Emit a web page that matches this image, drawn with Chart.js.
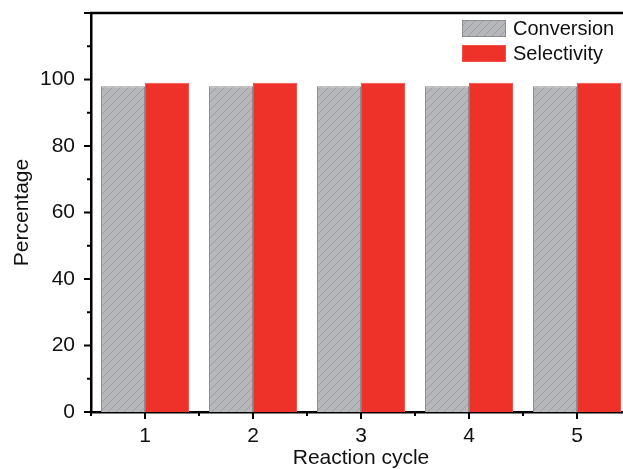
<!DOCTYPE html>
<html>
<head>
<meta charset="utf-8">
<script src="https://cdn.jsdelivr.net/npm/chart.js@4/dist/chart.umd.min.js"></script>
<style>
    html, body { margin: 0; padding: 0; background: #fff; }
    #wrap { width: 623px; height: 469px; overflow: hidden; }
</style>
</head>
<body>
<div id="wrap"><canvas id="bar-chart" width="640" height="469"></canvas></div>
<script>
// 反应循环次数
const cycles = ['1', '2', '3', '4', '5'];
// 转化率 / 选择性 (%)
const conversion = [98, 98, 98, 98, 98];
const selectivity = [99, 99, 99, 99, 99];
// y 轴刻度标签
const yLabels = [0, 20, 40, 60, 80, 100];

const FONT = 'Arial, "Liberation Sans", sans-serif';

// 斜线填充
function makeHatch() {
    const s = 8;
    const c = document.createElement('canvas');
    c.width = s;
    c.height = s;
    const ctx = c.getContext('2d');
    ctx.fillStyle = '#b5b7ba';
    ctx.fillRect(0, 0, s, s);
    ctx.strokeStyle = '#9a9c9f';
    ctx.lineWidth = 0.9;
    ctx.beginPath();
    ctx.moveTo(-1, s + 1);
    ctx.lineTo(s + 1, -1);
    ctx.stroke();
    return ctx.createPattern(c, 'repeat');
}
const hatch = makeHatch();

// 刻度线和上边框
const axisDecor = {
    id: 'axisDecor',
    afterDraw(chart) {
        const ctx = chart.ctx;
        const area = chart.chartArea;
        const x = chart.scales.x;
        const y = chart.scales.y;
        ctx.save();
        ctx.strokeStyle = '#000';
        ctx.lineWidth = 2.5;
        ctx.beginPath();
        ctx.moveTo(area.left - 1, area.top);
        ctx.lineTo(area.right + 20, area.top);
        ctx.stroke();

        ctx.lineWidth = 2;
        ctx.beginPath();
        for (let v = 0; v <= 120; v += 10) {
            const py = y.getPixelForValue(v);
            const len = v % 20 === 0 ? 7 : 4;
            ctx.moveTo(area.left, py);
            ctx.lineTo(area.left - len, py);
        }
        const half = (x.getPixelForValue(1) - x.getPixelForValue(0)) / 2;
        for (let i = 0; i < cycles.length; i++) {
            const px = x.getPixelForValue(i);
            ctx.moveTo(px, area.bottom);
            ctx.lineTo(px, area.bottom + 7);
            ctx.moveTo(px - half, area.bottom);
            ctx.lineTo(px - half, area.bottom + 4);
        }
        ctx.stroke();
        ctx.restore();
    }
};

// 图内图例
const innerLegend = {
    id: 'innerLegend',
    afterDraw(chart) {
        const ctx = chart.ctx;
        const bx = 462, by = 20, bw = 44, bh = 17, gap = 25;
        ctx.save();
        ctx.font = '20px ' + FONT;
        ctx.textBaseline = 'middle';
        chart.data.datasets.forEach((ds, i) => {
            const top = by + i * gap;
            ctx.fillStyle = ds.backgroundColor;
            ctx.fillRect(bx, top, bw, bh);
            ctx.strokeStyle = ds.borderColor;
            ctx.lineWidth = 1;
            ctx.strokeRect(bx + 0.5, top + 0.5, bw - 1, bh - 1);
            ctx.fillStyle = '#111';
            ctx.fillText(ds.label, bx + 51, top + bh / 2 + 1);
        });
        ctx.restore();
    }
};

new Chart(document.getElementById('bar-chart'), {
    type: 'bar',
    data: {
        labels: cycles,
        datasets: [{
            label: 'Conversion',
            data: conversion,
            backgroundColor: hatch,
            borderColor: '#8c8e91',
            borderWidth: 1,
            categoryPercentage: 0.815,
            barPercentage: 1
        }, {
            label: 'Selectivity',
            data: selectivity,
            backgroundColor: '#ee3229',
            borderColor: '#f2524a',
            borderWidth: 1,
            categoryPercentage: 0.815,
            barPercentage: 1
        }]
    },
    options: {
        responsive: false,
        animation: false,
        devicePixelRatio: 1,
        layout: {
            padding: { left: 11, top: 13, right: 9, bottom: 0 }
        },
        plugins: {
            legend: { display: false },
            tooltip: { enabled: false }
        },
        scales: {
            x: {
                grid: { display: false, drawTicks: false },
                border: { display: true, color: '#000', width: 2.5 },
                ticks: {
                    padding: 12,
                    color: '#111',
                    font: { family: FONT, size: 21 }
                },
                title: {
                    display: true,
                    text: 'Reaction cycle',
                    color: '#111',
                    padding: { top: 0, bottom: -2 },
                    font: { family: FONT, size: 21 }
                },
                afterFit: function (scale) {
                    scale.height = 57;
                    scale.paddingLeft = 0;
                    scale.paddingRight = 0;
                }
            },
            y: {
                min: 0,
                max: 120,
                grid: { display: false, drawTicks: false },
                border: { display: true, color: '#000', width: 2.5 },
                ticks: {
                    stepSize: 20,
                    padding: 16,
                    color: '#111',
                    font: { family: FONT, size: 21 },
                    callback: function (value) {
                        return yLabels.includes(value) ? value : '';
                    }
                },
                title: {
                    display: true,
                    text: 'Percentage',
                    color: '#111',
                    padding: { top: -1, bottom: 0 },
                    font: { family: FONT, size: 21 }
                },
                afterFit: function (scale) {
                    scale.width = 80;
                    scale.paddingTop = 0;
                    scale.paddingBottom = 0;
                }
            }
        }
    },
    plugins: [axisDecor, innerLegend]
});
</script>
</body>
</html>
